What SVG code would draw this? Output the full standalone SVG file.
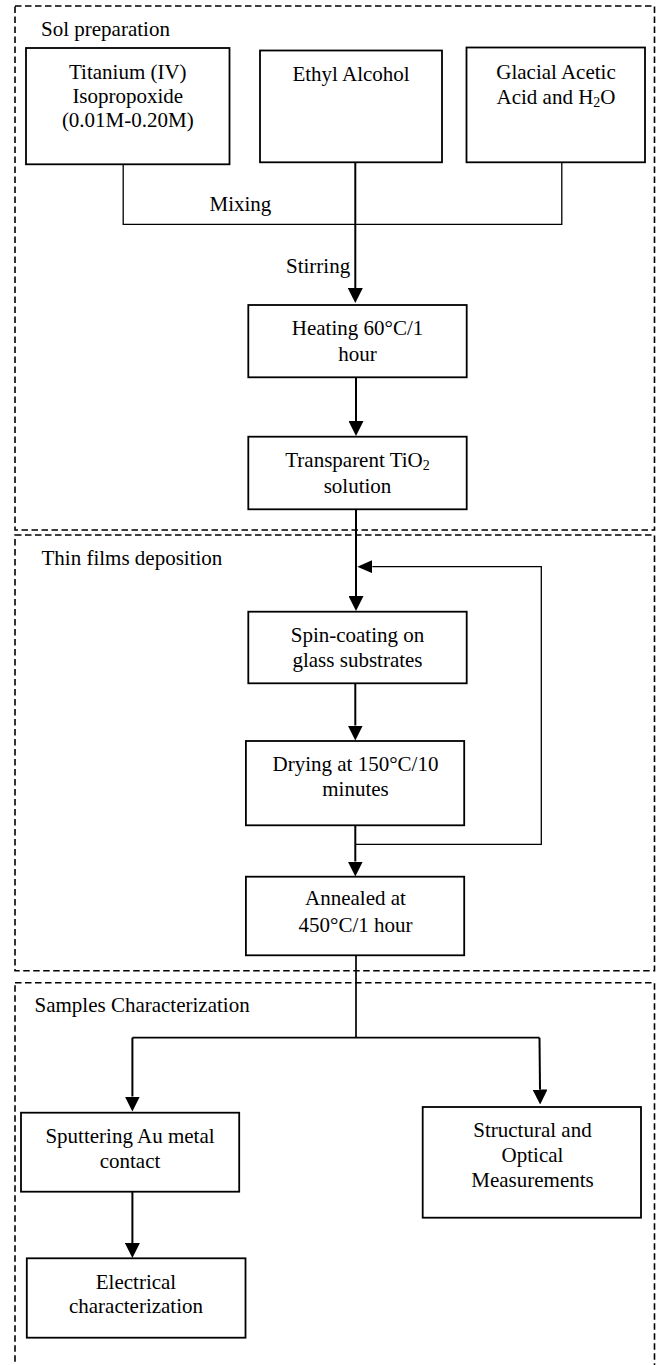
<svg xmlns="http://www.w3.org/2000/svg" width="657" height="1365" viewBox="0 0 657 1365">
<style>
  text { font-family: "Liberation Serif", "Times New Roman", serif; font-size: 21px; fill: #000; }
  .c { text-anchor: middle; }
  .node rect { fill: #fff; stroke: #000; stroke-width: 1.8; }
  .group { fill: none; stroke: #000; stroke-width: 1.6; stroke-dasharray: 6.5 3.5; }
  .conn { fill: none; stroke: #000; stroke-width: 2; }
  .thin { fill: none; stroke: #000; stroke-width: 1.3; }
  .mid { fill: none; stroke: #000; stroke-width: 1.7; }
  .sub { font-size: 14px; }
</style>
<defs>
  <marker id="arrow" markerUnits="userSpaceOnUse" viewBox="0 0 15 15" markerWidth="15" markerHeight="15" refX="0" refY="7.5" orient="auto">
    <path d="M0,0 L15,7.5 L0,15 Z" fill="#000"/>
  </marker>
  <marker id="arrowS" markerUnits="userSpaceOnUse" viewBox="0 0 15 13" markerWidth="15" markerHeight="13" refX="0" refY="6.5" orient="auto">
    <path d="M0,0 L15,6.5 L0,13 Z" fill="#000"/>
  </marker>
</defs>
<rect width="657" height="1365" fill="#fff"/>

<!-- section groups -->
<g id="sol-preparation">
  <rect class="group" x="15" y="6" width="639.5" height="524"/>
  <text x="41" y="35.5">Sol preparation</text>
</g>
<g id="thin-films-deposition">
  <rect class="group" x="15" y="535" width="639.5" height="435.7"/>
  <text x="41.5" y="565">Thin films deposition</text>
</g>
<g id="samples-characterization">
  <rect class="group" x="15" y="982.7" width="639.5" height="400"/>
  <text x="34.5" y="1011.7">Samples Characterization</text>
</g>

<!-- connectors -->
<g id="connectors">
  <path class="thin" d="M123.2,164.3 V224.3 H561.8 V162.3"/>
  <path class="conn" d="M355.3,162.3 V288" marker-end="url(#arrow)"/>
  <path class="conn" d="M356,377.3 V421" marker-end="url(#arrow)"/>
  <path class="conn" d="M356,509.3 V596" marker-end="url(#arrow)"/>
  <path class="thin" d="M356,844.3 H541.3 V566.7 H372.3" marker-end="url(#arrowS)"/>
  <path class="conn" d="M355.3,683.3 V725.5" marker-end="url(#arrow)"/>
  <path class="conn" d="M355.3,825.3 V861.5" marker-end="url(#arrow)"/>
  <path class="mid" d="M356,955 V1037.7"/>
  <path class="mid" d="M132.4,1037.7 H539.5"/>
  <path class="conn" d="M132.4,1037.7 V1096.5" marker-end="url(#arrow)"/>
  <path class="conn" d="M539.5,1037.7 L540,1089.5" marker-end="url(#arrow)"/>
  <path class="conn" d="M132.4,1191.7 V1243" marker-end="url(#arrow)"/>
  <text x="209.5" y="210.5">Mixing</text>
  <text x="286" y="272.5">Stirring</text>
</g>

<!-- nodes -->
<g id="titanium" class="node">
  <rect x="26" y="48" width="203.5" height="116.3"/>
  <text class="c" x="127.8" y="78.5">Titanium (IV)</text>
  <text class="c" x="127.8" y="102.5">Isopropoxide</text>
  <text class="c" x="127.8" y="126.5">(0.01M-0.20M)</text>
</g>
<g id="ethyl" class="node">
  <rect x="260" y="50.5" width="182" height="111.8"/>
  <text class="c" x="351" y="81">Ethyl Alcohol</text>
</g>
<g id="glacial" class="node">
  <rect x="466.5" y="47.5" width="178.5" height="114.8"/>
  <text class="c" x="556" y="79.3">Glacial Acetic</text>
  <text class="c" x="556" y="104">Acid and H<tspan class="sub" dy="3">2</tspan><tspan dy="-3">O</tspan></text>
</g>
<g id="heating" class="node">
  <rect x="248.3" y="305" width="218.4" height="72.3"/>
  <text class="c" x="357.5" y="335">Heating 60°C/1</text>
  <text class="c" x="357.5" y="360.7">hour</text>
</g>
<g id="transparent" class="node">
  <rect x="248.3" y="436.7" width="218.4" height="72.6"/>
  <text class="c" x="357.5" y="466.7">Transparent TiO<tspan class="sub" dy="3.5">2</tspan></text>
  <text class="c" x="357.5" y="492.7">solution</text>
</g>
<g id="spin-coating" class="node">
  <rect x="248.3" y="611.7" width="218.4" height="71.6"/>
  <text class="c" x="357.5" y="641.7">Spin-coating on</text>
  <text class="c" x="357.5" y="666.7">glass substrates</text>
</g>
<g id="drying" class="node">
  <rect x="245.9" y="741" width="218.3" height="84.3"/>
  <text class="c" x="355.5" y="771">Drying at 150°C/10</text>
  <text class="c" x="355.5" y="796">minutes</text>
</g>
<g id="annealed" class="node">
  <rect x="245.9" y="876.7" width="218.3" height="78.6"/>
  <text class="c" x="355.5" y="905">Annealed at</text>
  <text class="c" x="355.5" y="931.7">450°C/1 hour</text>
</g>
<g id="sputtering" class="node">
  <rect x="21" y="1112.7" width="218.2" height="79"/>
  <text class="c" x="130" y="1142.7">Sputtering Au metal</text>
  <text class="c" x="130" y="1167.7">contact</text>
</g>
<g id="electrical" class="node">
  <rect x="26.8" y="1258.3" width="218.7" height="79.4"/>
  <text class="c" x="136" y="1289">Electrical</text>
  <text class="c" x="136" y="1313.3">characterization</text>
</g>
<g id="structural" class="node">
  <rect x="422.7" y="1107" width="218.3" height="110.7"/>
  <text class="c" x="532.5" y="1136.7">Structural and</text>
  <text class="c" x="532.5" y="1161.7">Optical</text>
  <text class="c" x="532.5" y="1186.7">Measurements</text>
</g>
</svg>
